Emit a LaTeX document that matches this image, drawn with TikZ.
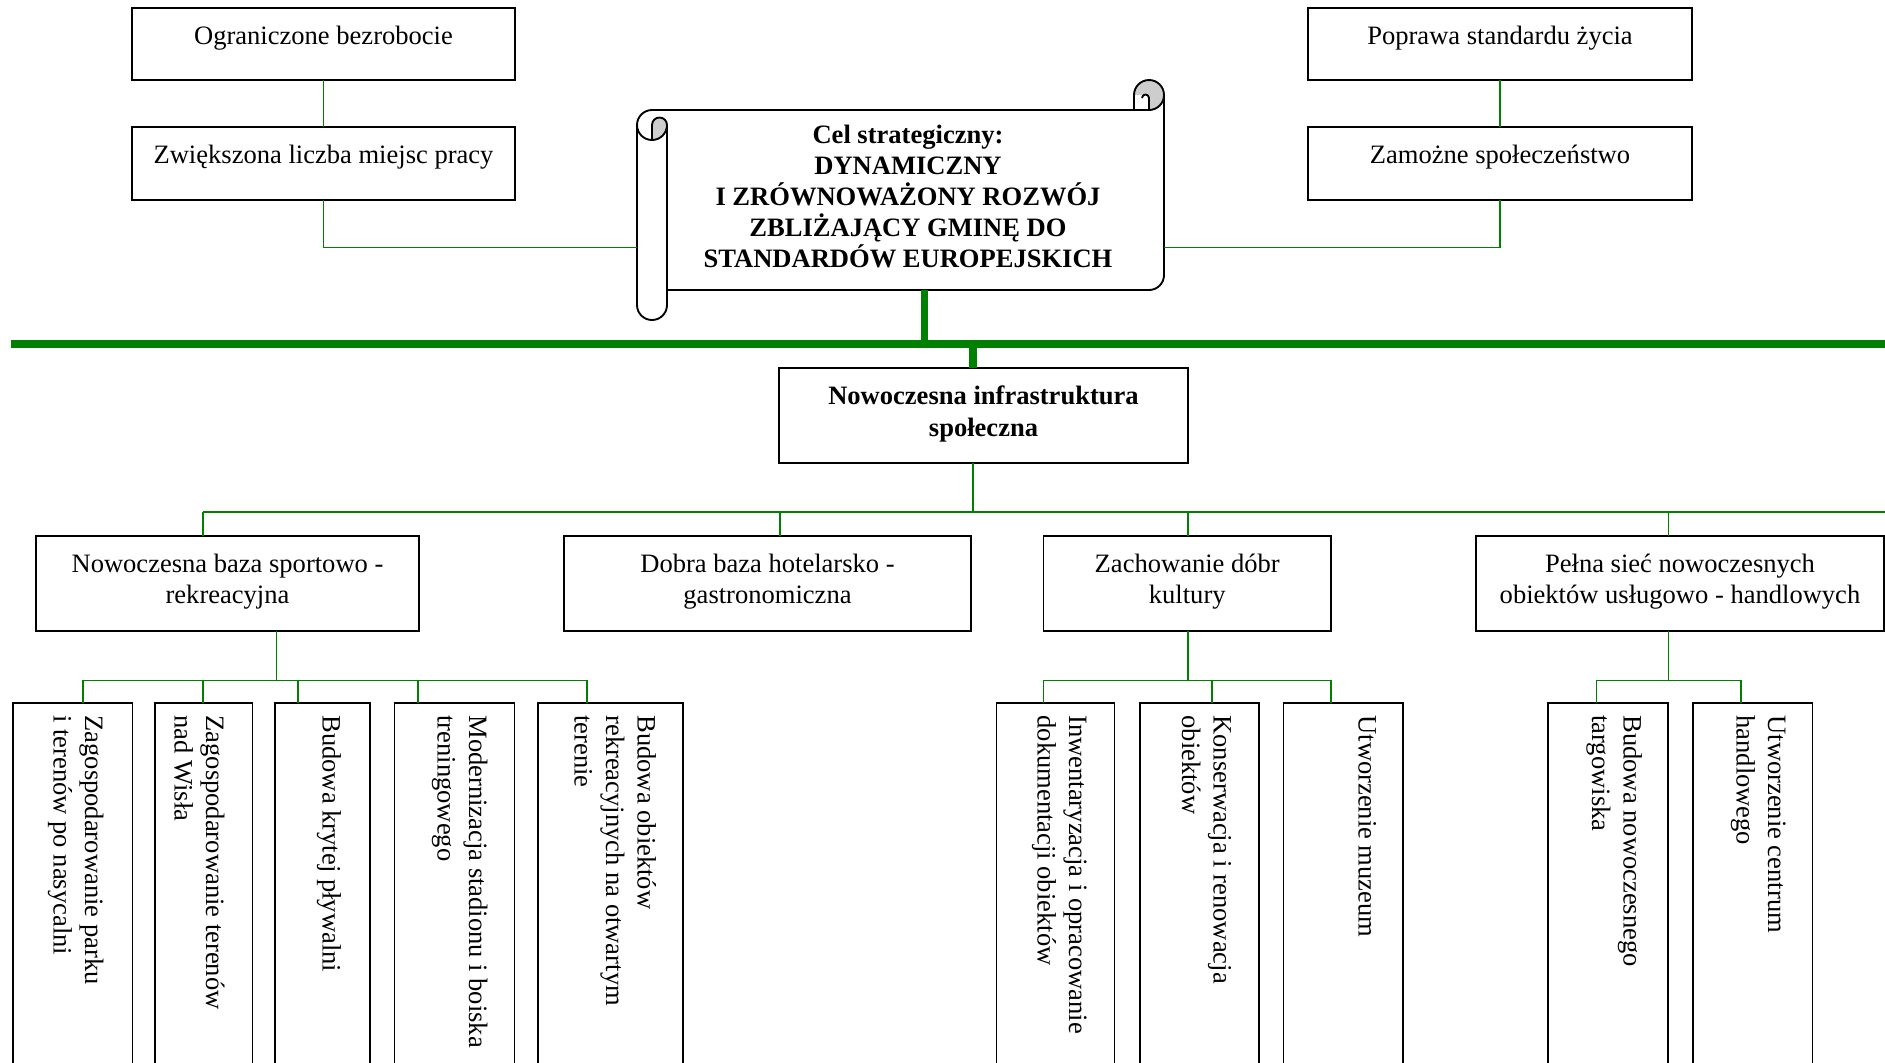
\documentclass[tikz,border=0pt]{standalone}
\usepackage{fontspec}
\setmainfont{Liberation Serif}
\usetikzlibrary{fit,calc}
\definecolor{lgreen}{RGB}{0,128,0}
\definecolor{curlgray}{RGB}{205,205,205}
\begin{document}
\begin{tikzpicture}[x=0.452pt,y=-0.452pt,
  box/.style={draw=black, line width=0.85pt, inner sep=0pt, outer sep=0pt},
  htxt/.style={anchor=north, align=center, inner sep=0pt, font=\fontsize{12}{13.9}\selectfont},
  vtxt/.style={rotate=-90, anchor=north west, align=left, inner sep=0pt, font=\fontsize{12}{14.2}\selectfont},
  gl/.style={draw=lgreen, line width=0.75pt},
  gk/.style={draw=lgreen, line width=3.3pt},
  scrollline/.style={draw=black, line width=0.85pt, line join=round}
]
\useasboundingbox (0,0) rectangle (1885,1062);
\clip (0,0) rectangle (1885,1062);

% ---------- scroll (strategic goal) ----------
\fill[white] (637,125) arc[start angle=180,end angle=270,radius=15] -- (1134,110) -- (1134,95)
  arc[start angle=180,end angle=360,radius=15] -- (1164,275) arc[start angle=0,end angle=90,radius=15]
  -- (667,290) -- (667,305) arc[start angle=0,end angle=180,radius=15] -- cycle;
\fill[curlgray] (652,125) arc[start angle=180,end angle=360,radius=7.5] arc[start angle=0,end angle=90,radius=15] -- cycle;
\fill[curlgray] (1134,95) arc[start angle=180,end angle=360,radius=15] arc[start angle=0,end angle=90,radius=15] -- (1149,95) -- cycle;
\draw[scrollline] (637,125) arc[start angle=180,end angle=270,radius=15] -- (1134,110) -- (1134,95)
  arc[start angle=180,end angle=360,radius=15] -- (1164,275) arc[start angle=0,end angle=90,radius=15]
  -- (667,290) -- (667,305) arc[start angle=0,end angle=180,radius=15] -- cycle;
\draw[scrollline] (652,140) -- (652,125) arc[start angle=180,end angle=360,radius=7.5] arc[start angle=0,end angle=180,radius=15];
\draw[scrollline] (667,125) -- (667,290);
\draw[scrollline] (1134,110) -- (1149,110) arc[start angle=90,end angle=0,radius=15];
\draw[scrollline] (1149,110) -- (1149,98) arc[start angle=0,end angle=-180,radius=3.5];
\node[htxt, font=\fontsize{12}{14}\selectfont\bfseries] (celt) at (908,121.5)
  {\strut Cel strategiczny:\\ DYNAMICZNY\\ I ZRÓWNOWAŻONY ROZWÓJ\\ ZBLIŻAJĄCY GMINĘ DO\\ STANDARDÓW EUROPEJSKICH};
\coordinate (scrL) at (637,247.6);
\coordinate (scrR) at (1164,247.6);
\coordinate (scrB) at (924.5,290);

% ---------- top boxes ----------
\node[box, fit={(132,8)(515,80)}] (ogr) {};
\node[box, fit={(132,127)(515,200)}] (zwi) {};
\node[box, fit={(1308,8)(1692,80)}] (pop) {};
\node[box, fit={(1308,127)(1692,200)}] (zam) {};
\node[htxt] (ogrt) at ($(ogr.north)+(0,15)$) {\strut Ograniczone bezrobocie};
\node[htxt] (zwit) at ($(zwi.north)+(0,15)$) {\strut Zwiększona liczba miejsc pracy};
\node[htxt] (popt) at ($(pop.north)+(0,15)$) {\strut Poprawa standardu życia};
\node[htxt] (zamt) at ($(zam.north)+(0,15)$) {\strut Zamożne społeczeństwo};

\draw[gl] (ogr.south) -- (zwi.north);
\draw[gl] (zwi.south) |- (scrL);
\draw[gl] (pop.south) -- (zam.north);
\draw[gl] (zam.south) |- (scrR);

% ---------- main bus ----------
\coordinate (busL) at (11,344);
\coordinate (busR) at (1885,344);
\coordinate (infIn) at (973,344);
\node[box, fit={(779,368)(1188,463)}] (infra) {};
\node[htxt, font=\fontsize{12}{14.6}\selectfont\bfseries] (infrat) at ($(infra.north)+(0,13.5)$)
  {\strut Nowoczesna infrastruktura\\ społeczna};
\draw[gk] (busL) -- (busR);
\draw[gk] (scrB) -- (scrB |- busL);
\draw[gk] (infIn) -- (infIn |- infra.north);

% ---------- level 2 ----------
\node[box, fit={(36,536)(419,631)}] (sport) {};
\node[box, fit={(564,536)(971,631)}] (hotel) {};
\node[box, fit={(1043.5,536)(1331,631)}] (kult) {};
\node[box, fit={(1476,536)(1884,631)}] (usl) {};
\node[htxt] (sportt) at ($(sport.north)+(0,14.8)$) {\strut Nowoczesna baza sportowo -\\ rekreacyjna};
\node[htxt] (hotelt) at ($(hotel.north)+(0,14.8)$) {\strut Dobra baza hotelarsko -\\ gastronomiczna};
\node[htxt] (kultt) at ($(kult.north)+(0,14.8)$) {\strut Zachowanie dóbr\\ kultury};
\node[htxt] (uslt) at ($(usl.north)+(0,14.8)$) {\strut Pełna sieć nowoczesnych\\ obiektów usługowo - handlowych};

\coordinate (b2L) at (203,511.7);
\coordinate (b2R) at (1885,511.7);
\coordinate (dB) at (780,511.7);
\coordinate (dC) at (1188,511.7);
\coordinate (dD) at (1668.6,511.7);
\draw[gl] (b2L) -- (b2R);
\draw[gl] (infIn |- infra.south) -- (infIn |- b2L);
\draw[gl] (b2L) -- (b2L |- sport.north);
\draw[gl] (dB) -- (dB |- hotel.north);
\draw[gl] (dC) -- (dC |- kult.north);
\draw[gl] (dD) -- (dD |- usl.north);

% ---------- level 3 boxes ----------
\node[box, fit={(13,703)(132.5,1080)}] (a1) {};
\node[box, fit={(155,703)(252.5,1080)}] (a2) {};
\node[box, fit={(275,703)(370,1080)}] (a3) {};
\node[box, fit={(394.5,703)(514.5,1080)}] (a4) {};
\node[box, fit={(538,703)(683,1080)}] (a5) {};
\node[box, fit={(996.5,703)(1114.5,1080)}] (c1) {};
\node[box, fit={(1140,703)(1259,1080)}] (c2) {};
\node[box, fit={(1283.5,703)(1403,1080)}] (c3) {};
\node[box, fit={(1548,703)(1668,1080)}] (d1) {};
\node[box, fit={(1692.7,703)(1812.5,1080)}] (d2) {};

\node[vtxt] (a1t) at ($(a1.north east)+(-25,12)$) {\strut Zagospodarowanie parku\\ i terenów po nasycalni};
\node[vtxt] (a2t) at ($(a2.north east)+(-24,12)$) {\strut Zagospodarowanie terenów\\ nad Wisła};
\node[vtxt] (a3t) at ($(a3.north east)+(-25,12)$) {\strut Budowa krytej pływalni};
\node[vtxt] (a4t) at ($(a4.north east)+(-23,12)$) {\strut Modernizacja stadionu i boiska\\ treningowego};
\node[vtxt] (a5t) at ($(a5.north east)+(-23,12)$) {\strut Budowa obiektów\\ rekreacyjnych na otwartym\\ terenie};
\node[vtxt] (c1t) at ($(c1.north east)+(-23,12)$) {\strut Inwentaryzacja i opracowanie\\ dokumentacji obiektów};
\node[vtxt] (c2t) at ($(c2.north east)+(-23,12)$) {\strut Konserwacja i renowacja\\ obiektów};
\node[vtxt] (c3t) at ($(c3.north east)+(-22,12)$) {\strut Utworzenie muzeum};
\node[vtxt] (d1t) at ($(d1.north east)+(-22,12)$) {\strut Budowa nowoczesnego\\ targowiska};
\node[vtxt] (d2t) at ($(d2.north east)+(-22,12)$) {\strut Utworzenie centrum\\ handlowego};

% ---------- level 3 connectors ----------
\coordinate (jA) at (276.5,680.4);
\coordinate (aL) at (83,680.4);
\coordinate (a2d) at (203,680.4);
\coordinate (a3d) at (298,680.4);
\coordinate (a4d) at (418,680.4);
\coordinate (aR) at (586.7,680.4);
\draw[gl] (jA |- sport.south) -- (jA);
\draw[gl] (aL) -- (aR);
\draw[gl] (aL) -- (aL |- a1.north);
\draw[gl] (a2d) -- (a2d |- a2.north);
\draw[gl] (a3d) -- (a3d |- a3.north);
\draw[gl] (a4d) -- (a4d |- a4.north);
\draw[gl] (aR) -- (aR |- a5.north);

\coordinate (jC) at (1188,680.4);
\coordinate (cL) at (1043.5,680.4);
\coordinate (c2d) at (1212,680.4);
\coordinate (cR) at (1331,680.4);
\draw[gl] (jC |- kult.south) -- (jC);
\draw[gl] (cL) -- (cR);
\draw[gl] (cL) -- (cL |- c1.north);
\draw[gl] (c2d) -- (c2d |- c2.north);
\draw[gl] (cR) -- (cR |- c3.north);

\coordinate (jD) at (1668.6,680.4);
\coordinate (dL) at (1596.5,680.4);
\coordinate (dR) at (1740.8,680.4);
\draw[gl] (jD |- usl.south) -- (jD);
\draw[gl] (dL) -- (dR);
\draw[gl] (dL) -- (dL |- d1.north);
\draw[gl] (dR) -- (dR |- d2.north);
\end{tikzpicture}
\end{document}
